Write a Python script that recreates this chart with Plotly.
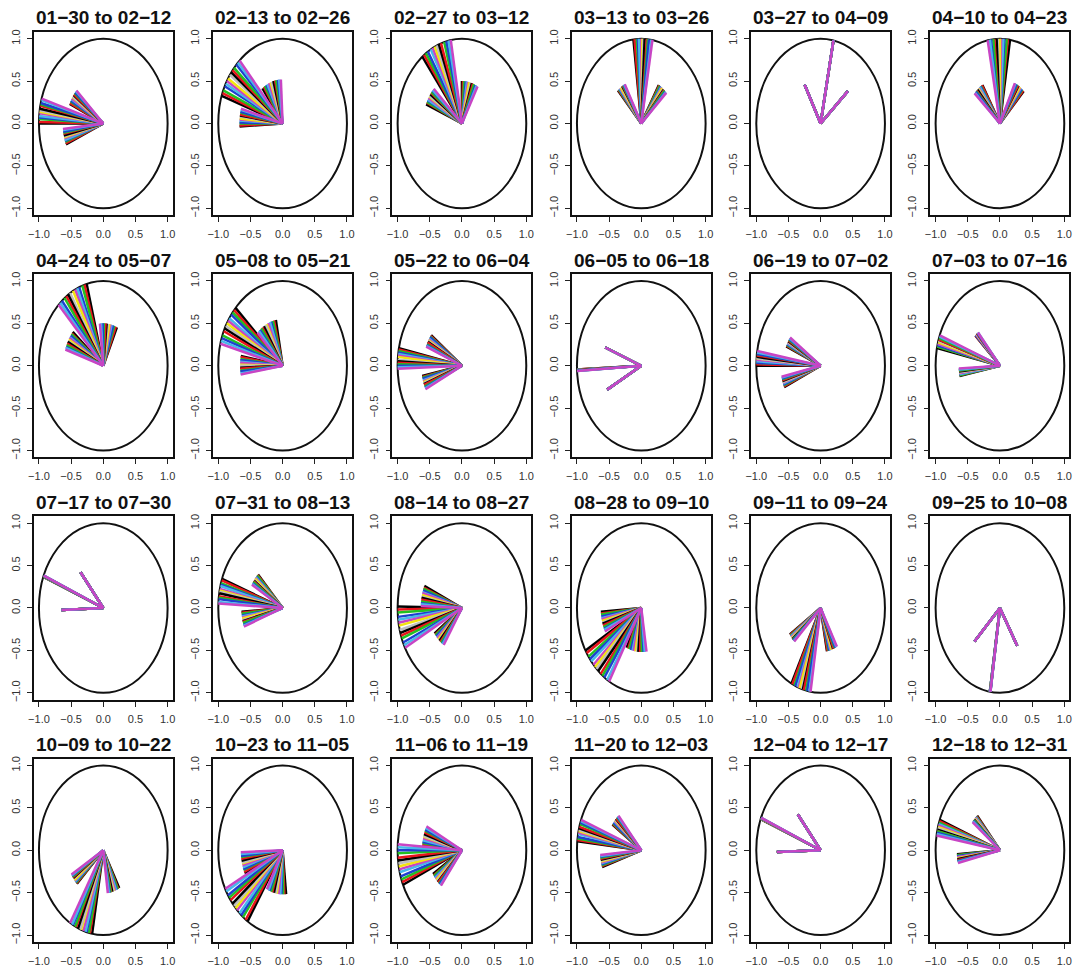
import math
import plotly.graph_objects as go

# Two-week periods, one panel each
PERIODS = [
    "01−30 to 02−12", "02−13 to 02−26", "02−27 to 03−12", "03−13 to 03−26",
    "03−27 to 04−09", "04−10 to 04−23", "04−24 to 05−07", "05−08 to 05−21",
    "05−22 to 06−04", "06−05 to 06−18", "06−19 to 07−02", "07−03 to 07−16",
    "07−17 to 07−30", "07−31 to 08−13", "08−14 to 08−27", "08−28 to 09−10",
    "09−11 to 09−24", "09−25 to 10−08", "10−09 to 10−22", "10−23 to 11−05",
    "11−06 to 11−19", "11−20 to 12−03", "12−04 to 12−17", "12−18 to 12−31",
]

# Direction (degrees, counter-clockwise from +x) of each daily vector, 14 days per period
HAND_A_DEG = [
    [180, 179, 177, 176, 175, 173, 172, 171, 170, 168, 167, 166, 164, 163],
    [161, 159, 157, 154, 152, 150, 148, 145, 143, 141, 139, 136, 134, 132],
    [128, 126, 124, 122, 119, 117, 115, 113, 111, 109, 106, 104, 102, 100],
    [97, 96, 94, 93, 92, 90, 89, 88, 87, 85, 84, 83, 81, 80],
    [78.5, 78.5, 78.5, 78.5, 78.5, 78.5, 78.5, 78.5, 78.5, 78.5, 78.5, 78.5, 78.5, 78.5],
    [81, 83, 84, 86, 87, 89, 90, 92, 93, 95, 96, 98, 99, 101],
    [105, 107, 109, 112, 114, 116, 118, 121, 123, 125, 127, 130, 132, 134],
    [137, 139, 141, 143, 146, 148, 150, 152, 154, 156, 159, 161, 163, 165],
    [168, 169, 170, 171, 172, 173, 174, 176, 177, 178, 179, 180, 181, 182],
    [182.5, 182.6, 182.7, 182.8, 182.9, 183, 183, 183, 183.1, 183.2, 183.3, 183.4, 183.5, 183.5],
    [180, 179, 178, 178, 177, 176, 175, 175, 174, 173, 172, 172, 171, 170],
    [168, 167, 167, 166, 165, 165, 164, 163, 162, 162, 161, 160, 160, 159],
    [158.5, 158.4, 158.3, 158.2, 158.1, 158, 158, 158, 157.9, 157.8, 157.7, 157.6, 157.5, 157.5],
    [160, 161, 163, 164, 165, 167, 168, 169, 170, 172, 173, 174, 176, 177],
    [179, 181, 183, 186, 188, 190, 192, 195, 197, 199, 201, 204, 206, 208],
    [210, 212, 215, 217, 219, 222, 224, 226, 228, 231, 233, 235, 238, 240],
    [243, 244, 246, 247, 249, 250, 251, 253, 254, 255, 257, 258, 260, 261],
    [261, 261, 261, 261, 261, 261.2, 261.2, 261.3, 261.3, 261.4, 261.4, 261.5, 261.5, 261.5],
    [260, 258, 257, 255, 254, 252, 250, 249, 247, 245, 244, 242, 241, 239],
    [237, 235, 232, 230, 228, 225, 223, 221, 219, 216, 214, 212, 209, 207],
    [204, 202, 200, 198, 195, 193, 191, 189, 187, 185, 182, 180, 178, 176],
    [174, 173, 172, 171, 169, 168, 167, 166, 165, 164, 162, 161, 160, 159],
    [158.5, 158.4, 158.3, 158.2, 158.1, 158, 158, 158, 157.9, 157.8, 157.7, 157.6, 157.5, 157.5],
    [159, 160, 161, 162, 162, 163, 164, 165, 166, 167, 167, 168, 169, 170],
]

HAND_B_DEG = [
    [156, 155, 153, 152, 150, 149, 147, 146, 144, 143, 141, 140, 138, 137],
    [127, 124, 122, 119, 117, 114, 111, 109, 106, 103, 101, 98, 96, 93],
    [158, 156, 155, 153, 152, 150, 148, 147, 145, 143, 142, 140, 139, 137],
    [133, 132, 131, 130, 129, 128, 127, 125, 124, 123, 122, 121, 120, 119],
    [118.5, 118.5, 118.5, 118.5, 118.5, 118.5, 118.5, 118.5, 118.5, 118.5, 118.5, 118.5, 118.5, 118.5],
    [121, 122, 124, 125, 126, 128, 129, 130, 131, 133, 134, 135, 137, 138],
    [65, 67, 70, 72, 75, 77, 79, 82, 84, 86, 89, 91, 94, 96],
    [101, 104, 106, 109, 111, 114, 117, 119, 122, 125, 127, 130, 132, 135],
    [143, 144, 145, 146, 148, 149, 150, 151, 152, 153, 155, 156, 157, 158],
    [159, 159, 159, 159, 159, 159, 159, 159, 159, 159, 159, 159, 159, 159],
    [157, 156, 155, 154, 153, 152, 151, 151, 150, 149, 148, 147, 146, 145],
    [137, 137, 136, 136, 135, 135, 134, 134, 133, 133, 132, 132, 131, 131],
    [130, 130, 130, 130, 130, 130, 130, 130, 130, 130, 130, 130, 130, 130],
    [134, 135, 136, 138, 139, 140, 141, 143, 144, 145, 146, 148, 149, 150],
    [156, 158, 159, 161, 163, 164, 166, 168, 169, 171, 173, 175, 176, 178],
    [184, 186, 187, 189, 191, 192, 194, 196, 197, 199, 201, 203, 204, 206],
    [213, 214, 215, 216, 216, 217, 218, 219, 220, 221, 221, 222, 223, 224],
    [225, 225, 225, 225, 225, 225, 225, 225, 225, 225, 225, 225, 225, 225],
    [224, 223, 222, 221, 220, 219, 218, 216, 215, 214, 213, 212, 211, 210],
    [205, 203, 201, 200, 198, 196, 194, 193, 191, 189, 187, 186, 184, 182],
    [176, 174, 172, 171, 169, 167, 165, 164, 162, 160, 158, 157, 155, 153],
    [146, 145, 144, 143, 141, 140, 139, 138, 137, 136, 134, 133, 132, 131],
    [130, 130, 130, 130, 130, 130, 130, 130, 130, 130, 130, 130, 130, 130],
    [131, 132, 133, 134, 134, 135, 136, 137, 138, 139, 139, 140, 141, 142],
]

HAND_C_DEG = [
    [203, 202, 200, 199, 198, 196, 195, 194, 193, 191, 190, 189, 187, 186],
    [183, 182, 180, 179, 177, 176, 175, 173, 172, 171, 169, 168, 166, 165],
    [90, 88, 86, 83, 81, 79, 77, 74, 72, 70, 68, 65, 63, 61],
    [59, 58, 57, 55, 54, 53, 52, 50, 49, 48, 47, 45, 44, 43],
    [42, 42, 42, 42, 42, 42, 42, 42, 42, 42, 42, 42, 42, 42],
    [46, 47, 49, 50, 52, 53, 54, 56, 57, 58, 60, 61, 63, 64],
    [140, 142, 143, 145, 147, 148, 150, 152, 153, 155, 157, 159, 160, 162],
    [170, 171, 173, 174, 176, 177, 179, 180, 182, 183, 185, 186, 188, 189],
    [191, 192, 193, 194, 196, 197, 198, 199, 200, 201, 203, 204, 205, 206],
    [208, 208, 208, 208, 208, 208, 208, 208, 208, 208, 208, 208, 208, 208],
    [204, 203, 202, 201, 200, 199, 198, 198, 197, 196, 195, 194, 193, 192],
    [191, 190, 190, 189, 189, 188, 187, 187, 186, 185, 185, 184, 184, 183],
    [182, 182, 182, 182, 182, 182, 182, 182, 182, 182, 182, 182, 182, 182],
    [184, 185, 186, 188, 189, 190, 191, 193, 194, 195, 196, 198, 199, 200],
    [215, 217, 218, 220, 222, 223, 225, 227, 228, 230, 232, 234, 235, 237],
    [244, 247, 249, 252, 255, 257, 260, 263, 265, 268, 271, 274, 276, 279],
    [281, 282, 284, 285, 287, 288, 289, 291, 292, 293, 295, 296, 298, 299],
    [301, 301, 301, 301, 301, 301, 301, 301, 301, 301, 301, 301, 301, 301],
    [299, 297, 296, 294, 293, 291, 289, 288, 286, 284, 283, 281, 280, 278],
    [276, 273, 271, 268, 266, 263, 260, 258, 255, 252, 250, 247, 245, 242],
    [212, 214, 215, 217, 218, 220, 221, 223, 225, 226, 228, 229, 231, 232],
    [198, 197, 196, 195, 194, 193, 192, 191, 190, 189, 188, 187, 186, 185],
    [181.7, 181.7, 181.7, 181.7, 181.7, 181.7, 181.7, 181.7, 181.7, 181.7, 181.7, 181.7, 181.7, 181.7],
    [184, 185, 185, 186, 187, 187, 188, 189, 189, 190, 191, 191, 192, 193],
]

# Vector lengths per period
HAND_A_LEN = [1.0] * 24
HAND_B_LEN = [0.57, 0.52, 0.60, 0.53, 0.52, 0.53, 0.50, 0.55, 0.60, 0.60, 0.58, 0.52,
              0.55, 0.55, 0.64, 0.63, 0.57, 0.56, 0.57, 0.65, 0.62, 0.54, 0.55, 0.54]
HAND_C_LEN = [0.63, 0.67, 0.50, 0.53, 0.57, 0.53, 0.62, 0.66, 0.63, 0.60, 0.62, 0.64,
              0.65, 0.64, 0.52, 0.52, 0.52, 0.52, 0.51, 0.52, 0.53, 0.64, 0.68, 0.67]

TICKS = [-1.0, -0.5, 0.0, 0.5, 1.0]
TICK_TEXT = ["−1.0", "−0.5", "0.0", "0.5", "1.0"]

# Classic base-graphics palette, recycled over the 14 days
PALETTE = ["#000000", "#E8141C", "#22C022", "#1F3FD0", "#48B8EA", "#C844C4", "#F2E410", "#BEBEBE"]

W_PX, H_PX = 1084, 973
NCOL, NROW = 6, 4
CELL_W, CELL_H = W_PX / NCOL, H_PX / NROW
BOX_L, BOX_R, BOX_T, BOX_B = 28, 168, 30, 214
PAD = 0.08

fig = go.Figure()
layout = dict(
    width=W_PX, height=H_PX,
    margin=dict(l=0, r=0, t=0, b=0),
    paper_bgcolor="white", plot_bgcolor="white",
    showlegend=False,
    font=dict(family="Liberation Sans, Arial, sans-serif", color="#222"),
)
shapes, annotations = [], []

for p, label in enumerate(PERIODS):
    row, col = divmod(p, NCOL)
    ax = p + 1
    xname = "xaxis" if ax == 1 else f"xaxis{ax}"
    yname = "yaxis" if ax == 1 else f"yaxis{ax}"
    xref = "x" if ax == 1 else f"x{ax}"
    yref = "y" if ax == 1 else f"y{ax}"

    x0 = (col * CELL_W + BOX_L) / W_PX
    x1 = (col * CELL_W + BOX_R) / W_PX
    y1 = 1 - (row * CELL_H + BOX_T) / H_PX
    y0 = 1 - (row * CELL_H + BOX_B) / H_PX

    common = dict(
        range=[-1 - PAD, 1 + PAD], showgrid=False, zeroline=False,
        showline=True, mirror=True, linecolor="#111", linewidth=1.8,
        ticks="outside", ticklen=5, tickwidth=1, tickcolor="#222",
        tickvals=TICKS, ticktext=TICK_TEXT, fixedrange=True,
        tickfont=dict(size=11, color="#333"),
    )
    layout[xname] = dict(common, domain=[x0, x1], anchor=yref, ticklabelstandoff=3)
    layout[yname] = dict(common, domain=[y0, y1], anchor=xref, tickangle=-90, ticklabelstandoff=3)

    # unit circle
    shapes.append(dict(type="circle", xref=xref, yref=yref, x0=-1, y0=-1, x1=1, y1=1,
                       line=dict(color="#111", width=2), layer="below"))

    annotations.append(dict(
        text=f"<b>{label}</b>", xref="paper", yref="paper",
        x=(x0 + x1) / 2, y=1 - (row * CELL_H + 16) / H_PX,
        xanchor="center", yanchor="middle", showarrow=False,
        font=dict(size=19, color="#111", family="Liberation Sans, Arial, sans-serif"),
    ))

    hands = [
        (HAND_A_DEG[p], HAND_A_LEN[p]),
        (HAND_B_DEG[p], HAND_B_LEN[p]),
        (HAND_C_DEG[p], HAND_C_LEN[p]),
    ]
    for day in range(14):
        xs, ys = [], []
        for degs, r in hands:
            th = math.radians(degs[day])
            xs += [0.0, r * math.cos(th), None]
            ys += [0.0, r * math.sin(th), None]
        fig.add_trace(go.Scatter(
            x=xs, y=ys, xaxis=xref, yaxis=yref, mode="lines",
            line=dict(color=PALETTE[day % len(PALETTE)], width=2.5),
            hoverinfo="skip",
        ))

layout["shapes"] = shapes
layout["annotations"] = annotations
fig.update_layout(**layout)
fig.write_html("out.html")
